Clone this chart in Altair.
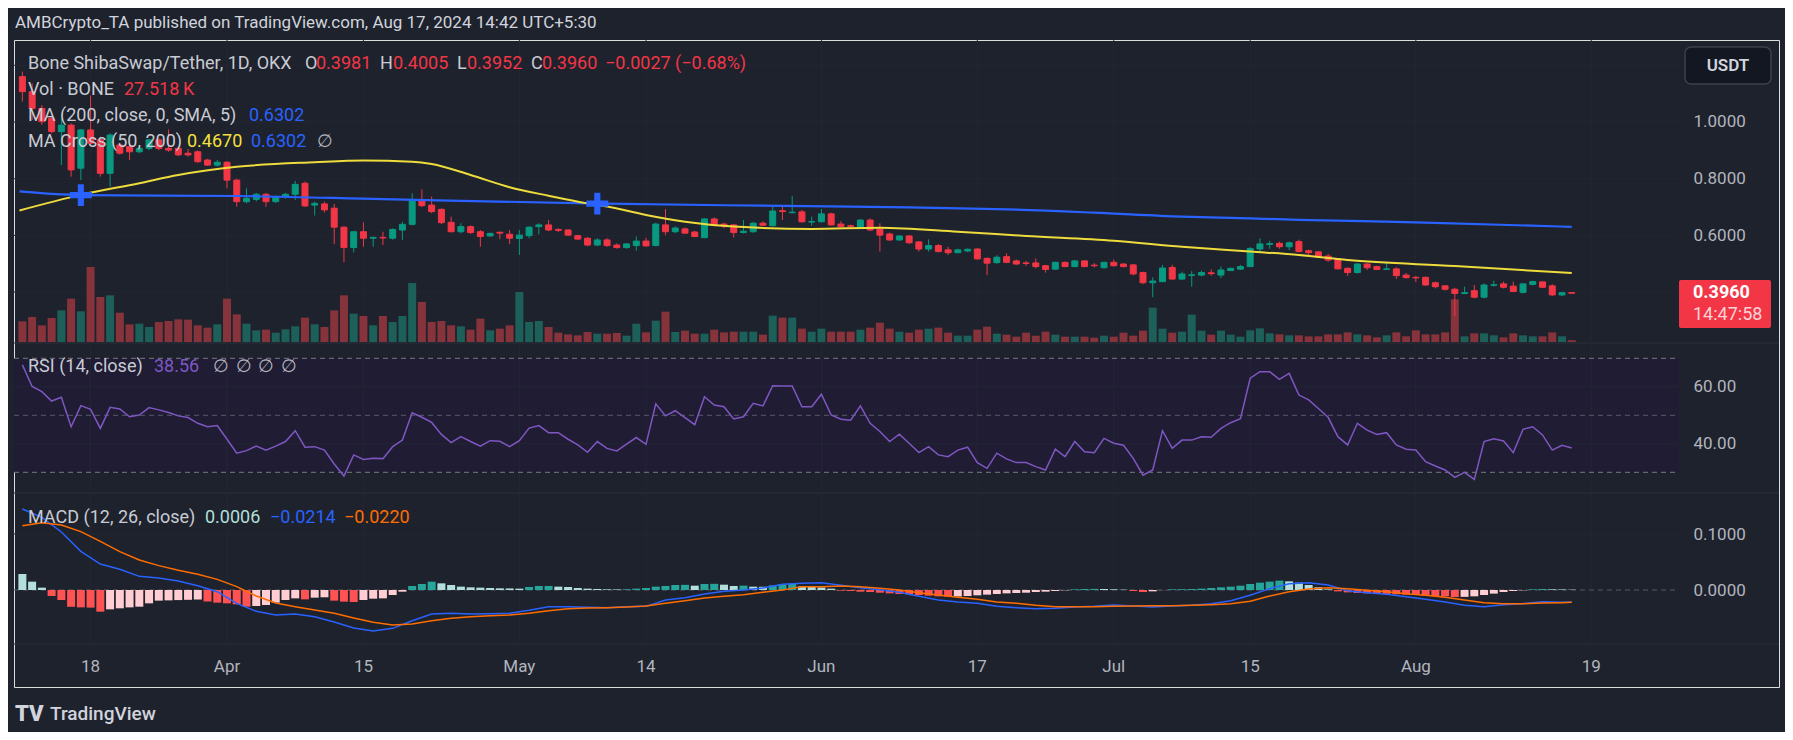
import altair as alt
import pandas as pd

# ---------------- data ----------------
# day index 0 = 2024-03-11 ... 159 = 2024-08-17
opens = [1.160,1.107,1.048,1.013,0.966,0.989,0.837,0.972,0.937,0.819,
0.919,0.913,0.895,0.907,0.937,0.907,0.907,0.890,0.895,0.866,
0.848,0.858,0.795,0.719,0.727,0.745,0.719,0.737,0.745,0.784,
0.707,0.711,0.696,0.629,0.557,0.613,0.590,0.593,0.590,0.619,
0.639,0.725,0.707,0.692,0.646,0.613,0.631,0.613,0.598,0.611,
0.604,0.589,0.599,0.631,0.637,0.621,0.619,0.599,0.590,0.566,
0.584,0.566,0.557,0.564,0.580,0.564,0.637,0.613,0.623,0.612,
0.592,0.658,0.640,0.637,0.610,0.613,0.643,0.634,0.687,0.680,
0.683,0.647,0.648,0.676,0.640,0.634,0.628,0.654,0.623,0.605,
0.584,0.598,0.577,0.552,0.564,0.549,0.539,0.545,0.552,0.519,
0.504,0.525,0.510,0.503,0.503,0.493,0.481,0.505,0.490,0.510,
0.495,0.486,0.505,0.499,0.496,0.469,0.433,0.437,0.487,0.446,
0.459,0.460,0.468,0.460,0.476,0.481,0.490,0.552,0.568,0.572,
0.560,0.578,0.546,0.542,0.527,0.517,0.484,0.469,0.499,0.490,
0.480,0.482,0.460,0.452,0.452,0.433,0.422,0.410,0.395,0.405,
0.382,0.424,0.429,0.421,0.399,0.427,0.436,0.422,0.390,0.3981]
highs = [1.178,1.136,1.060,1.020,1.013,0.995,0.975,1.094,0.948,0.960,
0.925,0.937,0.910,0.940,0.945,0.974,0.913,0.905,0.900,0.870,
0.866,0.862,0.800,0.766,0.750,0.750,0.740,0.750,0.792,0.790,
0.719,0.719,0.711,0.632,0.613,0.646,0.596,0.613,0.625,0.648,
0.748,0.762,0.737,0.695,0.666,0.643,0.635,0.619,0.610,0.613,
0.619,0.619,0.632,0.643,0.654,0.625,0.622,0.602,0.594,0.590,
0.590,0.572,0.572,0.596,0.592,0.645,0.693,0.632,0.628,0.616,
0.660,0.663,0.645,0.641,0.654,0.648,0.650,0.707,0.704,0.739,
0.690,0.666,0.693,0.680,0.650,0.638,0.658,0.660,0.643,0.610,
0.600,0.600,0.580,0.586,0.570,0.560,0.553,0.554,0.555,0.522,
0.530,0.537,0.515,0.510,0.519,0.496,0.507,0.508,0.512,0.512,
0.502,0.507,0.515,0.502,0.498,0.472,0.452,0.496,0.496,0.472,
0.474,0.476,0.480,0.490,0.486,0.496,0.558,0.590,0.581,0.578,
0.578,0.585,0.550,0.545,0.535,0.520,0.487,0.502,0.502,0.493,
0.505,0.487,0.468,0.457,0.455,0.437,0.425,0.415,0.419,0.425,
0.430,0.440,0.437,0.437,0.430,0.440,0.437,0.428,0.400,0.4005]
lows = [1.072,1.007,0.990,0.960,0.848,0.807,0.795,0.915,0.807,0.772,
0.885,0.866,0.890,0.900,0.900,0.895,0.880,0.878,0.855,0.845,
0.842,0.766,0.701,0.713,0.720,0.701,0.715,0.730,0.725,0.700,
0.670,0.681,0.569,0.505,0.540,0.560,0.560,0.566,0.585,0.584,
0.635,0.700,0.678,0.640,0.610,0.607,0.605,0.560,0.595,0.587,
0.569,0.531,0.590,0.604,0.615,0.612,0.598,0.585,0.562,0.562,
0.560,0.553,0.553,0.546,0.560,0.562,0.601,0.608,0.605,0.594,
0.590,0.634,0.625,0.592,0.607,0.609,0.633,0.632,0.654,0.678,
0.645,0.634,0.646,0.635,0.628,0.626,0.626,0.615,0.543,0.580,
0.580,0.570,0.543,0.543,0.540,0.531,0.537,0.541,0.515,0.460,
0.500,0.502,0.496,0.492,0.484,0.469,0.479,0.488,0.488,0.488,
0.487,0.483,0.490,0.487,0.459,0.428,0.382,0.435,0.444,0.442,
0.419,0.456,0.458,0.449,0.474,0.478,0.488,0.537,0.553,0.553,
0.548,0.540,0.530,0.522,0.507,0.480,0.457,0.465,0.478,0.478,
0.478,0.446,0.448,0.435,0.422,0.413,0.405,0.316,0.393,0.378,
0.378,0.419,0.413,0.401,0.395,0.424,0.415,0.387,0.386,0.3952]
closes = [1.107,1.048,1.001,0.966,0.989,0.831,0.972,0.925,0.819,0.954,
0.890,0.895,0.907,0.937,0.907,0.901,0.884,0.884,0.860,0.848,
0.858,0.795,0.719,0.731,0.745,0.719,0.737,0.745,0.780,0.704,
0.713,0.690,0.629,0.557,0.613,0.590,0.593,0.591,0.621,0.639,
0.723,0.705,0.684,0.645,0.613,0.631,0.610,0.596,0.607,0.608,
0.590,0.601,0.629,0.637,0.619,0.618,0.601,0.587,0.566,0.584,
0.564,0.557,0.570,0.580,0.563,0.640,0.613,0.626,0.608,0.596,
0.658,0.637,0.633,0.610,0.615,0.643,0.636,0.686,0.684,0.682,
0.648,0.649,0.676,0.637,0.631,0.632,0.654,0.619,0.601,0.584,
0.598,0.574,0.552,0.564,0.543,0.539,0.549,0.551,0.517,0.502,
0.523,0.505,0.499,0.501,0.490,0.480,0.505,0.490,0.510,0.490,
0.493,0.505,0.493,0.490,0.464,0.433,0.439,0.485,0.446,0.464,
0.461,0.469,0.465,0.478,0.484,0.490,0.554,0.570,0.571,0.560,
0.574,0.543,0.539,0.525,0.513,0.482,0.469,0.499,0.486,0.480,
0.482,0.458,0.451,0.450,0.425,0.419,0.410,0.395,0.398,0.382,
0.425,0.426,0.417,0.402,0.429,0.437,0.417,0.390,0.398,0.3960]
volumes_k = [310,375,250,360,475,650,460,1125,675,700,
440,265,275,225,300,315,340,335,250,215,
265,650,415,275,175,185,140,190,235,365,
265,225,475,700,425,390,250,390,300,390,
885,600,300,315,250,235,185,350,175,200,
250,750,300,315,225,140,115,100,150,125,
125,135,95,275,145,320,455,150,170,125,
125,185,145,155,155,155,110,395,365,365,
200,155,200,155,155,155,185,215,290,200,
155,140,185,200,215,140,95,95,185,230,
125,110,80,140,95,155,110,80,80,80,
65,95,80,140,95,170,515,200,140,155,
410,170,110,170,110,80,175,205,130,115,
100,100,85,85,115,115,145,115,100,70,
100,145,85,175,115,115,145,640,85,130,
130,100,70,130,100,85,85,145,85,27.518]

ma200_days = [-0.3, 6, 22, 37, 58, 78, 91, 100, 110, 119, 126, 131, 143, 159]
ma200_vals = [0.755, 0.742, 0.739, 0.728, 0.713, 0.704, 0.699, 0.693, 0.680, 0.666, 0.660, 0.655, 0.646, 0.6302]
ma50_days = [-0.3, 6, 12, 16, 22, 30, 35, 40, 42, 46, 50, 54, 58, 60, 64, 68, 73, 81, 88, 96, 103, 112, 119, 126, 131, 136, 147, 159]
ma50_vals = [0.688, 0.743, 0.784, 0.813, 0.842, 0.858, 0.864, 0.860, 0.852, 0.813, 0.770, 0.740, 0.713, 0.702, 0.672, 0.648, 0.631, 0.623, 0.627, 0.613, 0.598, 0.581, 0.560, 0.543, 0.531, 0.513, 0.492, 0.467]
cross_days = [6, 59]
cross_vals = [0.742, 0.712]

rsi_vals = [67.7,60.1,58.3,55.0,56.3,46.0,53.4,52.1,45.4,52.8,
52.2,49.5,50.1,52.7,51.9,51.0,49.8,49.2,47.2,46.0,
46.4,41.6,36.7,37.6,39.2,37.8,39.2,40.8,44.6,38.8,
39.0,37.8,32.9,28.7,36.1,34.5,34.9,34.8,39.0,41.3,
50.9,49.3,47.5,43.3,40.4,42.5,40.8,39.2,41.1,40.9,
39.0,41.1,45.5,46.4,43.9,43.9,41.6,39.6,37.0,40.8,
38.4,37.5,39.9,42.2,39.8,54.0,49.8,51.6,49.2,46.7,
56.5,53.6,53.0,48.7,49.5,54.2,53.3,60.4,60.3,60.3,
53.0,53.0,57.4,50.1,48.6,48.3,53.3,47.2,44.3,40.8,
43.4,40.2,36.9,39.0,36.1,35.5,37.8,38.8,33.4,31.4,
36.7,34.7,33.4,33.4,32.0,30.8,38.1,35.5,40.8,37.2,
36.9,41.9,40.2,39.5,34.9,29.0,30.8,44.6,38.4,41.3,
41.3,42.5,42.3,45.4,47.4,48.8,63.0,65.3,65.3,62.6,
64.7,57.1,55.4,52.4,49.3,42.5,39.6,47.2,44.8,43.3,
43.9,39.6,38.1,37.8,33.7,32.2,30.8,28.2,30.0,27.5,
40.8,41.8,41.0,36.9,45.1,46.0,43.1,37.8,39.5,38.56]

hist_vals = [0.0286,0.0149,0.0042,-0.0107,-0.0179,-0.0300,-0.0310,-0.0315,-0.0387,-0.0345,
-0.0327,-0.0310,-0.0298,-0.0238,-0.0190,-0.0185,-0.0180,-0.0175,-0.0170,-0.0205,
-0.0226,-0.0238,-0.0256,-0.0298,-0.0286,-0.0268,-0.0226,-0.0179,-0.0149,-0.0167,
-0.0137,-0.0130,-0.0190,-0.0208,-0.0214,-0.0179,-0.0155,-0.0149,-0.0089,-0.0030,
0.0071,0.0107,0.0149,0.0119,0.0089,0.0060,0.0048,0.0042,0.0036,0.0030,
0.0028,0.0024,0.0054,0.0071,0.0072,0.0060,0.0054,0.0036,0.0024,0.0018,
0.0012,0.0010,0.0014,0.0024,0.0036,0.0060,0.0071,0.0089,0.0092,0.0077,
0.0107,0.0110,0.0095,0.0071,0.0078,0.0060,0.0058,0.0083,0.0107,0.0110,
0.0065,0.0060,0.0045,0.0024,-0.0012,-0.0018,-0.0030,-0.0036,-0.0048,-0.0060,
-0.0071,-0.0077,-0.0089,-0.0101,-0.0113,-0.0119,-0.0116,-0.0107,-0.0095,-0.0083,
-0.0071,-0.0060,-0.0054,-0.0048,-0.0036,-0.0030,-0.0018,-0.0006,0.0012,0.0018,
0.0020,0.0018,0.0012,0.0006,-0.0018,-0.0036,-0.0024,-0.0002,0.0012,0.0014,
0.0018,0.0024,0.0036,0.0048,0.0060,0.0077,0.0107,0.0131,0.0149,0.0167,
0.0155,0.0131,0.0089,0.0048,0.0012,-0.0024,-0.0042,-0.0054,-0.0060,-0.0065,
-0.0071,-0.0077,-0.0083,-0.0089,-0.0101,-0.0107,-0.0113,-0.0125,-0.0122,-0.0113,
-0.0089,-0.0065,-0.0036,-0.0018,-0.0006,0.0012,0.0018,0.0012,0.0010,0.0006]

macd_days = list(range(0, 160, 2)) + [159]
macd_vals = [0.1446,0.1298,0.1036,0.0690,0.0464,0.0369,0.0244,0.0214,0.0161,0.0077,
-0.0030,-0.0238,-0.0381,-0.0446,-0.0429,-0.0476,-0.0571,-0.0679,-0.0732,-0.0685,
-0.0548,-0.0429,-0.0417,-0.0429,-0.0423,-0.0417,-0.0363,-0.0298,-0.0298,-0.0310,
-0.0315,-0.0298,-0.0292,-0.0179,-0.0137,-0.0071,-0.0024,0.0000,0.0036,0.0101,
0.0119,0.0131,0.0083,0.0042,0.0006,-0.0042,-0.0113,-0.0179,-0.0214,-0.0238,
-0.0292,-0.0315,-0.0333,-0.0327,-0.0304,-0.0292,-0.0268,-0.0286,-0.0304,-0.0286,
-0.0274,-0.0244,-0.0190,-0.0095,0.0024,0.0113,0.0131,0.0089,-0.0012,-0.0048,
-0.0077,-0.0119,-0.0167,-0.0214,-0.0274,-0.0298,-0.0262,-0.0244,-0.0208,-0.0220,-0.0214]
signal_vals = [0.1149,0.1202,0.1161,0.1042,0.0869,0.0685,0.0536,0.0435,0.0351,0.0280,
0.0190,0.0060,-0.0107,-0.0232,-0.0298,-0.0357,-0.0417,-0.0500,-0.0577,-0.0625,
-0.0607,-0.0548,-0.0506,-0.0476,-0.0458,-0.0446,-0.0417,-0.0369,-0.0333,-0.0321,
-0.0315,-0.0304,-0.0286,-0.0238,-0.0190,-0.0143,-0.0113,-0.0083,-0.0042,0.0000,
0.0060,0.0060,0.0071,0.0060,0.0030,0.0000,-0.0048,-0.0089,-0.0131,-0.0167,
-0.0214,-0.0238,-0.0274,-0.0298,-0.0298,-0.0298,-0.0292,-0.0286,-0.0280,-0.0280,
-0.0274,-0.0262,-0.0244,-0.0202,-0.0107,-0.0030,0.0018,0.0042,0.0024,-0.0006,
-0.0030,-0.0065,-0.0095,-0.0131,-0.0179,-0.0226,-0.0244,-0.0244,-0.0232,-0.0226,-0.0220]

tick_days = [7, 21, 35, 51, 64, 82, 98, 112, 126, 143, 161]
tick_labels = ["18", "Apr", "15", "May", "14", "Jun", "17", "Jul", "15", "Aug", "19"]
price_ticks = [0.6, 0.8, 1.0]
price_grid = [0.4, 0.6, 0.8, 1.0, 1.2]
rsi_ticks = [40, 60]
macd_ticks = [0.0, 0.1]

# ---------------- layout / style ----------------
W, H = 1765, 647
PLOT_R = 1665
X_DOM = [-0.347, 179.755]
PRICE_DOM = [-0.99295, 1.28924]
VOL_DOM = [-5175, 4530]
RSI_DOM = [-45.33, 181.68]
MACD_DOM = [-0.17321, 0.98214]

BG = "#1e222d"
PANE = "#131722"
GRID = "#232733"
SEP = "#2a2e39"
TXT = "#c8cbd3"
AXT = "#b2b5be"
UP, DN = "#089981", "#f23645"
VUP, VDN = "#1d5f59", "#86333b"
FONT = "Roboto"

XS = alt.Scale(domain=X_DOM, nice=False, zero=False)


def xq(field):
    return alt.X(f"{field}:Q", scale=XS, axis=None)


def yq(field, dom, axis=None):
    return alt.Y(f"{field}:Q", scale=alt.Scale(domain=dom, nice=False, zero=False), axis=axis)


def yaxis(values, fmt):
    return alt.Axis(orient="right", offset=-(W - PLOT_R), values=values, format=fmt,
                    labelColor=AXT, labelFontSize=17, labelFont=FONT, labelPadding=14,
                    ticks=False, domain=False, grid=False, title=None, zindex=1,
                    labelFlush=False, labelOverlap=False)


ONE = alt.Data(values=[{}])


def text(s, x, y, color=TXT, size=17, weight="normal", align="left"):
    return alt.Chart(ONE).mark_text(text=s, align=align, baseline="middle", fontSize=size,
                                    fontWeight=weight, color=color, font=FONT).encode(
        x=alt.value(x), y=alt.value(y))


def hline(y, x2=W, color=SEP):
    return alt.Chart(ONE).mark_rule(color=color, strokeWidth=1).encode(
        y=alt.value(y), x=alt.value(0), x2=alt.value(x2))


n = len(closes)
df = pd.DataFrame({"day": list(range(n)), "o": opens, "h": highs, "l": lows,
                   "c": closes, "v": volumes_k})
df["dir"] = ["up" if c >= o else "down" for o, c in zip(opens, closes)]

hcols = []
for i, v in enumerate(hist_vals):
    prev = hist_vals[i - 1] if i > 0 else v + 1
    if v >= 0:
        hcols.append("#26a69a" if v > prev else "#b2dfdb")
    else:
        hcols.append("#ffcdd2" if v > prev else "#ff5252")
hist_df = pd.DataFrame({"day": list(range(n)), "h": hist_vals, "col": hcols})
rsi_df = pd.DataFrame({"day": list(range(n)), "rsi": rsi_vals})
macd_df = pd.DataFrame({"day": macd_days, "m": macd_vals, "s": signal_vals})
tick_df = pd.DataFrame({"day": tick_days, "label": tick_labels})

dir_scale = alt.Scale(domain=["up", "down"], range=[UP, DN])
vol_scale = alt.Scale(domain=["up", "down"], range=[VUP, VDN])

layers = []

# pane separators
layers += [hline(303), hline(453), hline(604)]

# RSI background band
layers.append(alt.Chart(pd.DataFrame({"hi": [70], "lo": [30]})).mark_rect(color="#1f1c33").encode(
    y=yq("hi", RSI_DOM), y2="lo:Q", x=alt.value(0), x2=alt.value(PLOT_R)))

# vertical grid lines and time-axis labels
layers.append(alt.Chart(tick_df).mark_rule(color=GRID).encode(
    x=xq("day"), y=alt.value(0), y2=alt.value(604)))
layers.append(alt.Chart(tick_df).mark_text(fontSize=17, color=AXT, font=FONT, baseline="middle",
                                           align="center").encode(
    x=xq("day"), y=alt.value(627), text="label:N"))

# horizontal grids
layers.append(alt.Chart(pd.DataFrame({"val": price_grid})).mark_rule(color=GRID).encode(
    y=yq("val", PRICE_DOM), x=alt.value(0), x2=alt.value(PLOT_R)))
layers.append(alt.Chart(pd.DataFrame({"val": rsi_ticks})).mark_rule(color=GRID).encode(
    y=yq("val", RSI_DOM), x=alt.value(0), x2=alt.value(PLOT_R)))
layers.append(alt.Chart(pd.DataFrame({"val": [0.1]})).mark_rule(color=GRID).encode(
    y=yq("val", MACD_DOM), x=alt.value(0), x2=alt.value(PLOT_R)))

# volume
layers.append(alt.Chart(df).mark_bar(size=8).encode(
    x=xq("day"), y=yq("v", VOL_DOM), y2=alt.datum(0),
    color=alt.Color("dir:N", scale=vol_scale, legend=None)))

# candles
layers.append(alt.Chart(df).mark_rule(strokeWidth=1).encode(
    x=xq("day"), y=yq("l", PRICE_DOM), y2="h:Q",
    color=alt.Color("dir:N", scale=dir_scale, legend=None)))
layers.append(alt.Chart(df).mark_bar(size=6, strokeWidth=1).encode(
    x=xq("day"), y=yq("o", PRICE_DOM, yaxis(price_ticks, ".4f")), y2="c:Q",
    color=alt.Color("dir:N", scale=dir_scale, legend=None),
    stroke=alt.Stroke("dir:N", scale=dir_scale, legend=None)))

# moving averages
layers.append(alt.Chart(pd.DataFrame({"day": ma200_days, "val": ma200_vals})).mark_line(
    color="#2962ff", strokeWidth=2.2, interpolate="monotone").encode(x=xq("day"), y=yq("val", PRICE_DOM)))
layers.append(alt.Chart(pd.DataFrame({"day": ma50_days, "val": ma50_vals})).mark_line(
    color="#eedb3c", strokeWidth=2, interpolate="monotone").encode(x=xq("day"), y=yq("val", PRICE_DOM)))
CROSS = "M-0.28,-1H0.28V-0.28H1V0.28H0.28V1H-0.28V0.28H-1V-0.28H-0.28Z"
layers.append(alt.Chart(pd.DataFrame({"day": cross_days, "val": cross_vals})).mark_point(
    shape=CROSS, filled=True, size=480, color="#2962ff", opacity=1).encode(
    x=xq("day"), y=yq("val", PRICE_DOM)))

# RSI
layers.append(alt.Chart(pd.DataFrame({"val": [70, 30]})).mark_rule(color="#787b86", strokeDash=[5, 4]).encode(
    y=yq("val", RSI_DOM), x=alt.value(0), x2=alt.value(PLOT_R)))
layers.append(alt.Chart(pd.DataFrame({"val": [50]})).mark_rule(color="#585b66", strokeDash=[5, 4]).encode(
    y=yq("val", RSI_DOM), x=alt.value(0), x2=alt.value(PLOT_R)))
layers.append(alt.Chart(rsi_df).mark_line(color="#7e57c2", strokeWidth=1.5).encode(
    x=xq("day"), y=yq("rsi", RSI_DOM, yaxis(rsi_ticks, ".2f"))))

# MACD
layers.append(alt.Chart(pd.DataFrame({"val": [0.0]})).mark_rule(color="#585b66", strokeDash=[5, 4]).encode(
    y=yq("val", MACD_DOM), x=alt.value(0), x2=alt.value(PLOT_R)))
layers.append(alt.Chart(hist_df).mark_bar(size=8).encode(
    x=xq("day"), y=yq("h", MACD_DOM), y2=alt.datum(0), color=alt.Color("col:N", scale=None)))
layers.append(alt.Chart(macd_df).mark_line(color="#2962ff", strokeWidth=1.5).encode(
    x=xq("day"), y=yq("m", MACD_DOM, yaxis(macd_ticks, ".4f"))))
layers.append(alt.Chart(macd_df).mark_line(color="#ff6d00", strokeWidth=1.5).encode(
    x=xq("day"), y=yq("s", MACD_DOM)))

# price tag and currency button
layers.append(alt.Chart(ONE).mark_rect(color=DN, cornerRadius=2).encode(
    x=alt.value(1665), x2=alt.value(1757), y=alt.value(240), y2=alt.value(288)))
layers.append(text("0.3960", 1679, 253, "#ffffff", 18, "bold"))
layers.append(text("14:47:58", 1679, 275, "#fcd3d7", 18))
layers.append(alt.Chart(ONE).mark_rect(fill=PANE, stroke="#3d404b", strokeWidth=1.5, cornerRadius=6).encode(
    x=alt.value(1671), x2=alt.value(1757), y=alt.value(7), y2=alt.value(44)))
layers.append(text("USDT", 1714, 26, "#d1d4dc", 17, 600, "center"))

# legends / header texts
layers.append(text("AMBCrypto_TA published on TradingView.com, Aug 17, 2024 14:42 UTC+5:30", 1, -17, "#d1d4dc", 17))
layers += [
    text("Bone ShibaSwap/Tether, 1D, OKX", 14, 24, size=18),
    text("O", 291, 24, size=18), text("0.3981", 302, 24, DN, 18),
    text("H", 366, 24, size=18), text("0.4005", 379, 24, DN, 18),
    text("L", 443, 24, size=18), text("0.3952", 453, 24, DN, 18),
    text("C", 517, 24, size=18), text("0.3960", 528, 24, DN, 18),
    text("\u22120.0027 (\u22120.68%)", 591, 24, DN, 18),
    text("Vol \u00b7 BONE", 14, 50, size=18), text("27.518\u2009K", 110, 50, DN, 18),
    text("MA (200, close, 0, SMA, 5)", 14, 76, size=18), text("0.6302", 235, 76, "#2962ff", 18),
    text("MA Cross (50, 200)", 14, 102, size=18), text("0.4670", 173, 102, "#f3e03c", 18),
    text("0.6302", 237, 102, "#2962ff", 18), text("\u2205", 303, 102, AXT, 18),
    text("RSI (14, close)", 14, 327, size=18), text("38.56", 140, 327, "#7e57c2", 18),
    text("\u2205", 199, 327, AXT, 18), text("\u2205", 222, 327, AXT, 18),
    text("\u2205", 244, 327, AXT, 18), text("\u2205", 267, 327, AXT, 18),
    text("MACD (12, 26, close)", 14, 478, size=18), text("0.0006", 191, 478, "#b2dfdb", 18),
    text("\u22120.0214", 256, 478, "#2962ff", 18), text("\u22120.0220", 330, 478, "#ff6d00", 18),
]

# footer
layers.append(text("TV", 1, 674, "#d1d4dc", 22, 900))
layers.append(text("TradingView", 36, 674, "#d1d4dc", 19, 500))

chart = alt.layer(*layers).resolve_scale(
    y="independent", color="independent", stroke="independent"
).properties(
    width=W, height=H, background=BG,
    padding={"left": 6, "top": 32, "right": 6, "bottom": 45},
    autosize=alt.AutoSizeParams(type="none"),
).configure_view(fill=PANE, stroke=SEP, strokeWidth=1).configure(font=FONT)

chart.save("out.html", embed_options={"renderer": "svg", "actions": False})
